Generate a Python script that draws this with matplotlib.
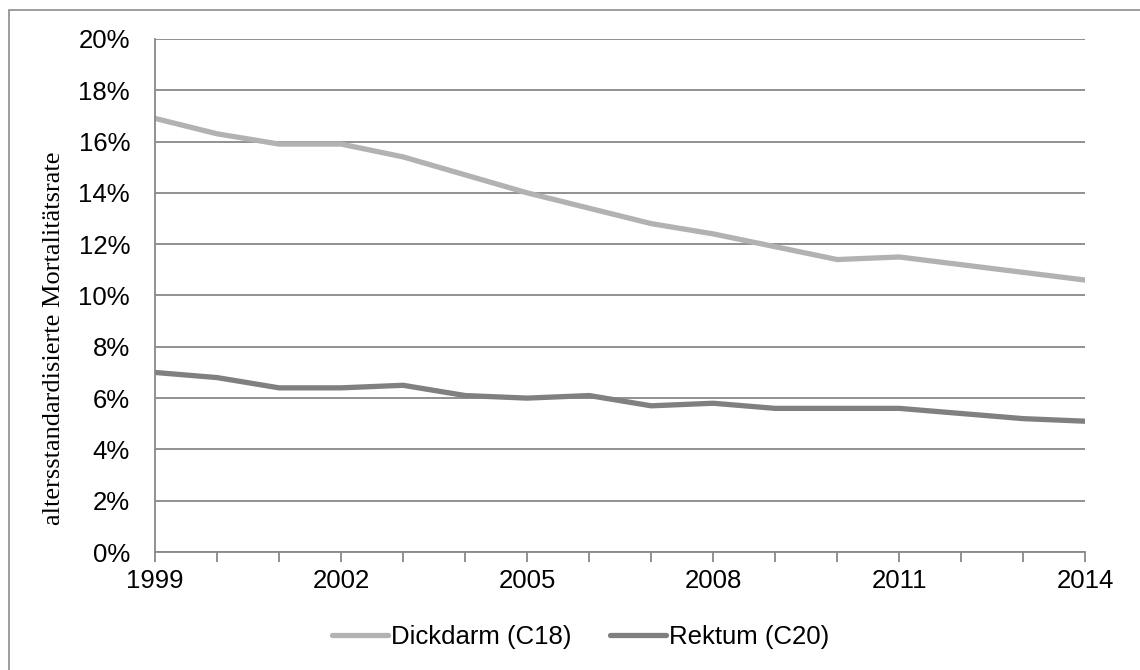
import numpy as np
import matplotlib.pyplot as plt
from matplotlib.patches import Rectangle
from matplotlib.ticker import FuncFormatter, MultipleLocator

years = list(range(1999, 2015))
dickdarm = [16.9, 16.3, 15.9, 15.9, 15.4, 14.7, 14.0, 13.4, 12.8, 12.4, 11.9, 11.4, 11.5, 11.2, 10.9, 10.6]
rektum = [7.0, 6.8, 6.4, 6.4, 6.5, 6.1, 6.0, 6.1, 5.7, 5.8, 5.6, 5.6, 5.6, 5.4, 5.2, 5.1]
labels = ['Dickdarm (C18)', 'Rektum (C20)']
colors = ['#b2b2b2', '#808080']

plt.rcParams['font.family'] = ['Liberation Sans', 'DejaVu Sans']

fig = plt.figure(figsize=(11.4, 6.7), dpi=100)
ax = fig.add_axes([0.136, 0.176, 0.816, 0.766])

# chart frame (only top and left edges fall inside the image)
fig.patches.append(Rectangle((9 / 1140, -0.1), 1.2, 1 - 10 / 670 + 0.1,
                             transform=fig.transFigure, fill=False,
                             edgecolor='#8c8c8c', linewidth=1.2))

for vals, lab, col in zip([dickdarm, rektum], labels, colors):
    ax.plot(years, vals, color=col, linewidth=3.8, label=lab,
            solid_capstyle='round', solid_joinstyle='round')

ax.set_xlim(1999, 2014)
ax.set_ylim(0, 20)
ax.yaxis.set_major_locator(MultipleLocator(2))
ax.yaxis.set_major_formatter(FuncFormatter(lambda v, p: '%d%%' % v))
ax.set_xticks(range(1999, 2015, 3))
ax.set_xticks(years, minor=True)
ax.grid(axis='y', color='#888888', linewidth=1.3)
ax.set_axisbelow(True)

for s in ['top', 'right']:
    ax.spines[s].set_visible(False)
for s in ['left', 'bottom']:
    ax.spines[s].set_color('#888888')
    ax.spines[s].set_linewidth(1.3)

ax.tick_params(axis='y', length=0, labelsize=18.5, pad=18)
ax.tick_params(axis='x', which='both', length=7, width=1.3, color='#888888',
               direction='out', labelsize=18.5, pad=5)

ax.set_ylabel('altersstandardisierte Mortalitätsrate', family='Liberation Serif',
              fontsize=19)
ax.yaxis.set_label_coords(-0.097, 0.417)

fig.legend(*ax.get_legend_handles_labels(), loc='center',
           bbox_to_anchor=(0.509, 0.049), ncol=2, frameon=False,
           fontsize=18.5, handlelength=2.2, handletextpad=0.1, columnspacing=1.5)

fig.savefig('out.png', dpi=100, facecolor='white')
